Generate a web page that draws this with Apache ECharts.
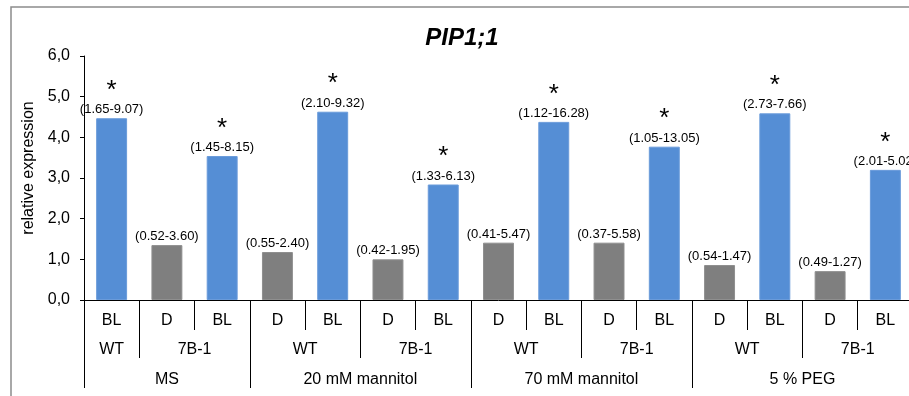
<!DOCTYPE html>
<html>
<head>
<meta charset="utf-8">
<script src="https://cdn.jsdelivr.net/npm/echarts@6/dist/echarts.min.js"></script>
<style>
  html, body { margin: 0; padding: 0; background: #fff; overflow: hidden; width: 909px; height: 396px; }
  #chart { width: 916px; height: 396px; }
</style>
</head>
<body>
<div id="chart"></div>
<script>
// Expression of PIP1;1 per treatment / genotype / condition
const treatments = ['MS', 'MS', 'MS',
  '20 mM mannitol', '20 mM mannitol', '20 mM mannitol', '20 mM mannitol',
  '70 mM mannitol', '70 mM mannitol', '70 mM mannitol', '70 mM mannitol',
  '5 % PEG', '5 % PEG', '5 % PEG', '5 % PEG'];
const genotypes = ['WT', '7B-1', '7B-1',
  'WT', 'WT', '7B-1', '7B-1',
  'WT', 'WT', '7B-1', '7B-1',
  'WT', 'WT', '7B-1', '7B-1'];
const conditions = ['BL', 'D', 'BL',
  'D', 'BL', 'D', 'BL',
  'D', 'BL', 'D', 'BL',
  'D', 'BL', 'D', 'BL'];
const values = [4.47, 1.35, 3.54,
  1.18, 4.63, 1.00, 2.84,
  1.41, 4.38, 1.41, 3.77,
  0.86, 4.59, 0.71, 3.20];
const ranges = ['(1.65-9.07)', '(0.52-3.60)', '(1.45-8.15)',
  '(0.55-2.40)', '(2.10-9.32)', '(0.42-1.95)', '(1.33-6.13)',
  '(0.41-5.47)', '(1.12-16.28)', '(0.37-5.58)', '(1.05-13.05)',
  '(0.54-1.47)', '(2.73-7.66)', '(0.49-1.27)', '(2.01-5.02)'];
const significant = [true, false, true,
  false, true, false, true,
  false, true, false, true,
  false, true, false, true];
const yTicks = [0, 1, 2, 3, 4, 5, 6];

const FONT = '"Liberation Sans", Arial, sans-serif';
const conditionColors = { BL: '#558ED5', D: '#7F7F7F' };
const conditionBorders = { BL: '#6a9bda', D: '#8f8f8f' };

// Build the grouped-axis helpers: groups are runs of equal consecutive keys.
function runs(keys) {
  const out = [];
  keys.forEach((k, i) => {
    const last = out[out.length - 1];
    if (last && last.key === k) last.end = i;
    else out.push({ key: k, start: i, end: i });
  });
  return out;
}
const genoGroups = runs(genotypes.map((g, i) => treatments[i] + '|' + g));
const treatGroups = runs(treatments);

// Half-step axes: point k sits at k/2 category widths from the left edge.
const n = conditions.length;
function halfStepAxis(groups, labelOf) {
  const data = [];
  for (let k = 0; k <= 2 * n; k++) data.push('');
  const centers = {};
  const bounds = new Set();
  groups.forEach(g => {
    centers[g.start + g.end + 1] = labelOf(g);
    bounds.add(2 * g.start);
    bounds.add(2 * (g.end + 1));
  });
  Object.keys(centers).forEach(k => { data[k] = centers[k]; });
  return { data, bounds };
}
const lvl2 = halfStepAxis(genoGroups, g => g.key.split('|')[1]);
const lvl3 = halfStepAxis(treatGroups, g => g.key);

const chart = echarts.init(document.getElementById('chart'));

const labelStyle = { color: '#000', fontSize: 16, fontFamily: FONT };

chart.setOption({
  animation: false,
  backgroundColor: '#fff',
  title: {
    text: 'PIP1;1',
    left: 462,
    top: 26,
    padding: 0,
    textAlign: 'center',
    textStyle: { fontFamily: FONT, fontSize: 24, fontWeight: 'bold', fontStyle: 'italic', color: '#000' }
  },
  graphic: [{
    type: 'rect',
    shape: { x: 11, y: 7, width: 1000, height: 600 },
    style: { fill: 'none', stroke: '#8c8c8c', lineWidth: 1.5 },
    silent: true
  }],
  grid: { left: 84, top: 56, width: 831, height: 244, containLabel: false },
  xAxis: [{
    type: 'category',
    data: conditions,
    position: 'bottom',
    axisLine: { lineStyle: { color: '#000', width: 1 } },
    axisTick: { show: true, length: 30, interval: 0, lineStyle: { color: '#000', width: 1 } },
    axisLabel: Object.assign({ interval: 0, margin: 13 }, labelStyle),
    splitLine: { show: false }
  }, {
    type: 'category',
    data: lvl2.data,
    boundaryGap: false,
    position: 'bottom',
    axisLine: { show: false },
    axisTick: { show: true, length: 58, interval: (i) => lvl2.bounds.has(i), lineStyle: { color: '#000', width: 1 } },
    axisLabel: Object.assign({ interval: 0, margin: 42 }, labelStyle),
    splitLine: { show: false }
  }, {
    type: 'category',
    data: lvl3.data,
    boundaryGap: false,
    position: 'bottom',
    axisLine: { show: false },
    axisTick: { show: true, length: 88, interval: (i) => lvl3.bounds.has(i), lineStyle: { color: '#000', width: 1 } },
    axisLabel: Object.assign({ interval: 0, margin: 72 }, labelStyle),
    splitLine: { show: false }
  }],
  yAxis: {
    type: 'value',
    min: yTicks[0],
    max: yTicks[yTicks.length - 1],
    interval: 1,
    name: 'relative expression',
    nameLocation: 'middle',
    nameGap: 44,
    nameRotate: 90,
    nameTextStyle: { fontFamily: FONT, fontSize: 16, color: '#000', padding: [0, 0, 0, 20] },
    axisLine: { show: true, lineStyle: { color: '#000', width: 1 } },
    axisTick: { show: true, length: 4, lineStyle: { color: '#000' } },
    axisLabel: {
      margin: 14, fontFamily: FONT, fontSize: 16, color: '#000',
      formatter: v => v.toFixed(1).replace('.', ',')
    },
    splitLine: { show: false }
  },
  series: [{
    type: 'bar',
    xAxisIndex: 0,
    barWidth: '56%',
    data: values.map((v, i) => ({
      value: v,
      itemStyle: { color: conditionColors[conditions[i]], borderColor: conditionBorders[conditions[i]], borderWidth: 1 }
    })),
    label: {
      show: true,
      position: 'top',
      distance: 1,
      formatter: p => (significant[p.dataIndex] ? '{s|*}\n' : '') + '{r|' + ranges[p.dataIndex] + '}',
      rich: {
        r: { fontFamily: FONT, fontSize: 13, lineHeight: 15, color: '#000' },
        s: { fontFamily: FONT, fontSize: 26, lineHeight: 23, color: '#000' }
      }
    }
  }]
});
</script>
</body>
</html>
